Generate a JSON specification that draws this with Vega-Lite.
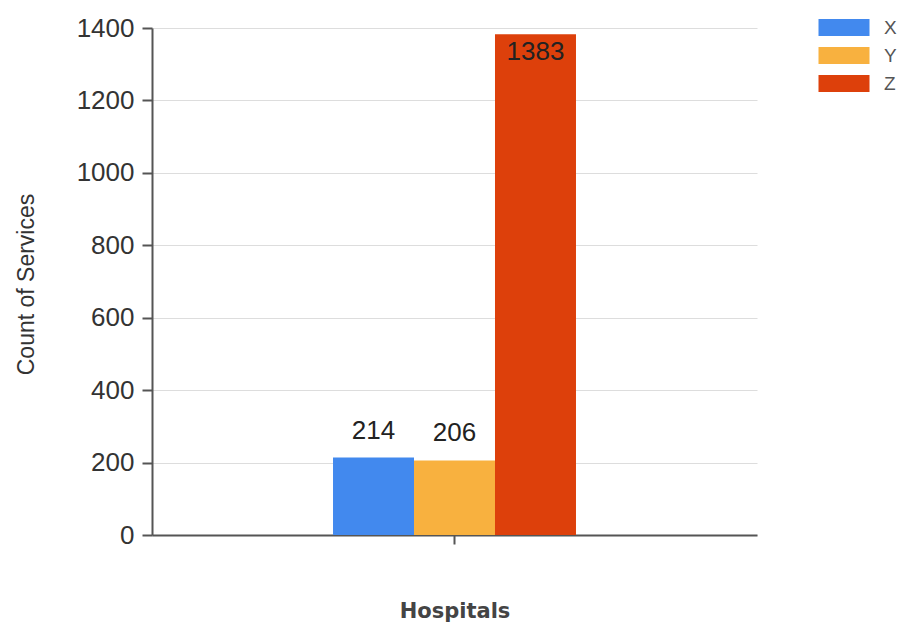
{
  "$schema": "https://vega.github.io/schema/vega-lite/v6.json",
  "width": 605,
  "height": 507,
  "autosize": {"type": "none"},
  "padding": {"left": 152, "top": 28, "right": 141, "bottom": 89},
  "background": "white",
  "config": {
    "font": "Liberation Sans",
    "view": {"stroke": null}
  },
  "data": {
    "values": [
      {"group": "Hospitals", "series": "X", "count": 214},
      {"group": "Hospitals", "series": "Y", "count": 206},
      {"group": "Hospitals", "series": "Z", "count": 1383}
    ]
  },
  "encoding": {
    "x": {
      "field": "group",
      "type": "nominal",
      "scale": {"paddingInner": 0, "paddingOuter": 0.745},
      "axis": {
        "title": "Hospitals",
        "labels": false,
        "domainColor": "#555555",
        "domainWidth": 2,
        "tickColor": "#555555",
        "tickWidth": 2,
        "tickSize": 9,
        "titleFont": "DejaVu Sans",
        "titleFontSize": 21,
        "titleFontWeight": "bold",
        "titleColor": "#444444",
        "titleBaseline": "middle",
        "titleY": 76
      }
    },
    "xOffset": {
      "field": "series",
      "type": "nominal",
      "scale": {"paddingInner": 0, "paddingOuter": 0}
    },
    "y": {
      "field": "count",
      "type": "quantitative",
      "scale": {"domain": [0, 1400], "nice": false},
      "axis": {
        "title": "Count of Services",
        "values": [0, 200, 400, 600, 800, 1000, 1200, 1400],
        "format": "d",
        "domainColor": "#555555",
        "domainWidth": 2,
        "tickColor": "#555555",
        "tickWidth": 2,
        "tickSize": 10,
        "labelFontSize": 26,
        "labelColor": "#333333",
        "labelPadding": 8,
        "gridColor": "#dddddd",
        "gridWidth": 1,
        "titleFontSize": 23,
        "titleFontWeight": "normal",
        "titleColor": "#333333",
        "titleX": -114,
        "titleY": 256
      }
    }
  },
  "layer": [
    {
      "mark": {"type": "bar", "stroke": null},
      "encoding": {
        "color": {
          "field": "series",
          "type": "nominal",
          "scale": {
            "domain": ["X", "Y", "Z"],
            "range": ["#4289EE", "#F8B13F", "#DD400B"]
          },
          "legend": {
            "title": null,
            "orient": "none",
            "legendX": 682.5,
            "legendY": -10,
            "padding": 0,
            "symbolType": "M-3,-1H3V1H-3Z",
            "symbolSize": 289,
            "symbolStrokeWidth": 0,
            "symbolOpacity": 1,
            "labelOffset": 30.5,
            "labelFontSize": 19,
            "labelColor": "#555555",
            "rowPadding": 8
          }
        }
      }
    },
    {
      "transform": [{"filter": "datum.count < 1000"}],
      "mark": {
        "type": "text",
        "baseline": "alphabetic",
        "dy": -19,
        "fontSize": 26,
        "color": "#222222"
      },
      "encoding": {"text": {"field": "count", "type": "quantitative"}}
    },
    {
      "transform": [{"filter": "datum.count >= 1000"}],
      "mark": {
        "type": "text",
        "baseline": "alphabetic",
        "dy": 26,
        "fontSize": 26,
        "color": "#222222"
      },
      "encoding": {"text": {"field": "count", "type": "quantitative"}}
    }
  ]
}
